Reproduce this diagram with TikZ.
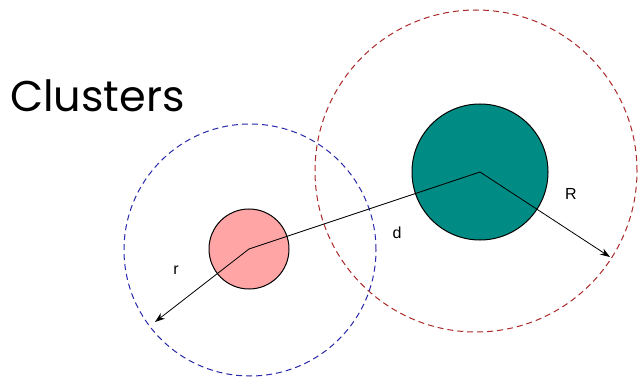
\documentclass[tikz,border=0pt]{standalone}
\usepackage{fontspec}
\usetikzlibrary{arrows.meta}
\setsansfont{Liberation Sans}
\newfontfamily\titlefont{Poppins}
\definecolor{ringred}{RGB}{170,40,40}
\definecolor{ringblue}{RGB}{40,40,170}
\definecolor{bigteal}{RGB}{0,140,132}
\definecolor{smallpink}{RGB}{255,165,165}
\tikzset{
  ring/.style={circle,draw,dash pattern=on 6pt off 4pt,line width=1pt,inner sep=0pt},
  blob/.style={circle,draw=black,line width=1pt,inner sep=0pt},
  lbl/.style={font=\sffamily\fontsize{16}{16}\selectfont},
  ray/.style={-{Stealth[length=10pt,width=7pt]},line width=.8pt}
}
\begin{document}
\begin{tikzpicture}[x=1pt,y=-1pt]
\useasboundingbox (0,0) rectangle (640,377);
\node[anchor=base west,inner sep=0pt] (title) at (10,112) {\titlefont\fontsize{43}{43}\selectfont Clusters};
% outer rings
\node[ring,draw=ringred,minimum size=322pt] (outR) at (476,171) {};
\node[ring,draw=ringblue,minimum size=252pt] (outr) at (250,250) {};
% the two clusters
\node[blob,fill=bigteal,minimum size=136pt] (big) at (480,172) {};
\node[blob,fill=smallpink,minimum size=80pt] (small) at (249,249) {};
\coordinate (tipr) at (155,322);
\coordinate (tipR) at (610,257);
\draw[line width=.8pt] (small.center)--(big.center);
\draw[ray] (small.center)--(tipr);
\draw[ray] (big.center)--(tipR);
\node[lbl] (r) at (176,270) {r};
\node[lbl] (d) at (397,233) {d};
\node[lbl] (R) at (571,194) {R};
\end{tikzpicture}
\end{document}
